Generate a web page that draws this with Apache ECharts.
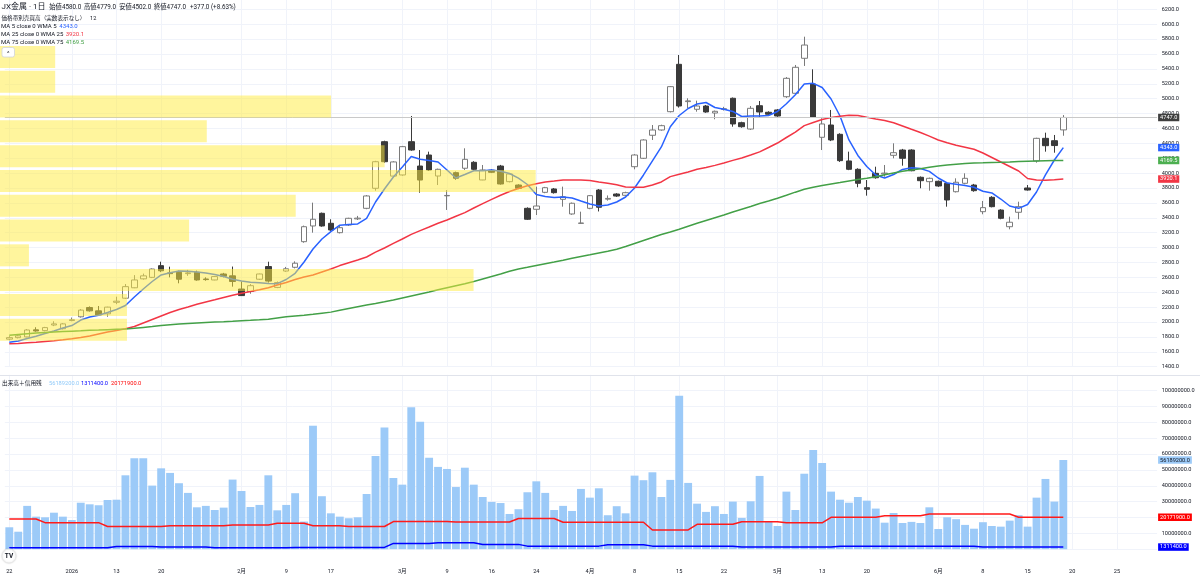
<!DOCTYPE html>
<html><head><meta charset="utf-8">
<script src="https://cdn.jsdelivr.net/npm/echarts@6/dist/echarts.min.js"></script>
<style>html,body{margin:0;padding:0;background:#fff}#c{width:1200px;height:579px}</style>
</head><body><div id="c"></div>
<script>
// ---------- data ----------
const dates = ['12/22','12/23','12/24','12/25','12/26','12/29','12/30',
'01/05','01/06','01/07','01/08','01/09','01/13','01/14','01/15','01/16','01/19','01/20','01/21','01/22','01/23','01/26','01/27','01/28','01/29','01/30',
'02/02','02/03','02/04','02/05','02/06','02/09','02/10','02/12','02/13','02/16','02/17','02/18','02/19','02/20','02/24','02/25','02/26','02/27',
'03/02','03/03','03/04','03/05','03/06','03/09','03/10','03/11','03/12','03/13','03/16','03/17','03/18','03/19','03/23','03/24','03/25','03/26','03/27','03/30','03/31',
'04/01','04/02','04/03','04/06','04/07','04/08','04/09','04/10','04/13','04/14','04/15','04/16','04/17','04/20','04/21','04/22','04/23','04/24','04/27','04/28','04/30',
'05/01','05/07','05/08','05/11','05/12','05/13','05/14','05/15','05/18','05/19','05/20','05/21','05/22','05/25','05/26','05/27','05/28','05/29',
'06/01','06/02','06/03','06/04','06/05','06/08','06/09','06/10','06/11','06/12','06/15','06/16','06/17','06/18','06/19'];
const futureDates = ['06/20','06/21','06/22','06/23','06/24','06/25','06/26','06/27','06/28','06/29'];
const tickDates = ['12/22','01/05','01/13','01/20','02/02','02/09','02/17','03/02','03/09','03/16','03/24','04/01','04/08','04/15','04/22','05/01','05/13','05/20','06/01','06/08','06/15','06/20','06/25'];
const tickText  = ['22','2026','13','20','2月','9','17','3月','9','16','24','4月','8','15','22','5月','13','20','6月','8','15','20','25'];

const open = [1770,1790,1800,1895,1885,1960,1910,2020,2070,2195, 2150,2110,2265,2320,2460,2580,2600,2757,2660,2668, 2650,2668,2578,2565,2645,2620,2443,2410,2575,2745, 2465,2685,2735,3079,3290,3460,3326,3200,3303,3385, 3527,3796,4422,3960,3975,4422,4095,4243,3961,3695, 4006,4065,4145,3908,4038,4095,3885,3840,3527,3514, 3742,3787,3648,3451,3325,3527,3773,3650,3719,3702, 4086,4199,4508,4579,4825,5461,4960,4857,4901,4807, 4855,5005,4677,4592,4905,4817,4848,5026,5072,5542, 5197,4481,4646,4521,4163,4051,3804,3997,3990,4239, 4310,4310,3944,3885,3890,3863,3750,3863,3840,3482, 3675,3504,3280,3474,3800,4163,4467,4435,4580];
const high = [1810,1830,1905,1930,1935,2010,1985,2060,2175,2210, 2215,2205,2340,2510,2630,2650,2720,2810,2743,2690, 2700,2690,2600,2615,2660,2745,2545,2510,2650,2810, 2545,2740,2815,3295,3603,3470,3380,3290,3400,3425, 3705,4165,4435,4160,4365,4767,4310,4288,4060,3773, 4020,4333,4160,4109,4050,4110,4000,3850,3540,3818, 3815,3800,3818,3605,3482,3705,3785,3700,3730,3750, 4255,4455,4646,4650,5170,5586,5005,4973,4915,4840, 4890,5015,4690,4901,4968,4830,4860,5290,5452,5832, 5394,4736,4848,4535,4288,4065,3907,4086,4109,4400, 4325,4320,3955,3940,3900,3875,3930,3997,3855,3626, 3690,3515,3415,3616,3840,4475,4543,4512,4779];
const low = [1755,1780,1795,1870,1875,1945,1900,2010,2060,2140, 2085,2070,2240,2310,2455,2570,2590,2670,2600,2520, 2620,2555,2555,2560,2600,2475,2350,2380,2565,2530, 2455,2675,2720,3065,3200,3280,3225,3190,3290,3370, 3515,3764,4140,3950,3965,4300,3737,4030,3840,3505, 3910,4042,4040,3905,4000,3845,3875,3785,3370,3437, 3730,3725,3549,3440,3320,3515,3485,3630,3680,3690, 4051,4190,4445,4570,4815,4880,4870,4825,4810,4723, 4840,4623,4610,4580,4749,4780,4755,5010,5060,5439, 4740,4310,4430,4150,4040,3810,3697,3925,3952,4199, 4100,4025,3796,3764,3815,3549,3740,3850,3750,3447, 3540,3380,3245,3380,3765,4140,4288,4274,4502];
const close = [1790,1815,1893,1880,1925,1975,1975,2030,2160,2150, 2095,2200,2280,2475,2565,2620,2712,2688,2650,2575, 2660,2565,2570,2610,2615,2545,2355,2488,2645,2550, 2530,2715,2790,3280,3380,3290,3236,3267,3393,3395, 3693,4153,4153,4150,4355,4310,3907,4042,4051,3700, 3931,4185,4051,4042,4011,3854,3988,3796,3380,3558, 3804,3737,3683,3595,3330,3697,3541,3660,3692,3737, 4243,4445,4579,4637,5161,4901,4970,4901,4821,4830, 4865,4660,4623,4870,4821,4790,4767,5273,5421,5720, 4750,4660,4445,4167,4051,3863,3783,3938,4000,4274, 4199,4032,3898,3930,3827,3639,3877,3930,3764,3536, 3549,3393,3340,3549,3773,4467,4368,4370,4747];

const ma5 = [1728,1745,1779,1808,1846,1880,1920,1953,2027,2068, 2090,2128,2168,2222,2336,2444,2544,2632,2663,2685, 2681,2672,2658,2638,2612,2574,2551,2534,2528,2518, 2515,2571,2654,2806,2981,3115,3213,3300,3310,3317, 3393,3612,3787,3948,4082,4223,4186,4169,4149,4042, 3934,3981,4032,4032,4042,4026,3995,3932,3847,3713, 3686,3672,3679,3666,3625,3585,3558,3572,3612,3679, 3800,3975,4163,4351,4623,4774,4868,4928,4948,4881, 4857,4828,4760,4767,4767,4774,4828,4931,5052,5197, 5206,5150,4995,4767,4445,4237,4089,3975,3934,3981, 4049,4073,4062,4023,3934,3867,3851,3834,3810,3756, 3733,3652,3558,3527,3578,3746,3975,4176,4343.0];
const ma25 = [1708,1713,1721,1728,1739,1748,1761,1775,1792,1812, 1839,1866,1886,1909,1940,1987,2034,2081,2128,2168, 2202,2238,2269,2299,2330,2360,2387,2409,2433,2461, 2497,2531,2571,2605,2632,2672,2712,2758,2797,2833, 2873,2938,2994,3057,3115,3177,3228,3276,3326,3370, 3420,3470,3531,3591,3648,3703,3753,3793,3830,3857, 3881,3894,3908,3908,3908,3901,3881,3863,3843,3814, 3810,3811,3840,3881,3953,3984,4015,4051,4075,4104, 4136,4171,4203,4243,4285,4344,4404,4478,4550,4638, 4680,4719,4747,4764,4778,4774,4750,4727,4707,4677, 4633,4588,4545,4496,4445,4407,4375,4348,4320,4270, 4210,4149,4089,4028,3928,3908,3905,3910,3920.1];
const ma75 = [1823,1833,1842,1851,1858,1865,1872,1877,1882,1888, 1892,1897,1902,1906,1916,1928,1939,1952,1963,1972, 1980,1988,1994,2000,2004,2010,2017,2023,2030,2038, 2054,2070,2081,2092,2104,2119,2133,2158,2182,2206, 2229,2250,2272,2296,2323,2350,2377,2403,2433,2461, 2488,2515,2544,2578,2612,2645,2681,2712,2735,2759, 2783,2806,2830,2856,2880,2903,2927,2951,2978,3014, 3055,3095,3135,3176,3209,3245,3286,3326,3364,3401, 3437,3478,3515,3552,3591,3625,3663,3702,3744,3783, 3811,3834,3854,3873,3894,3913,3930,3952,3977,4002, 4024,4042,4059,4078,4096,4109,4120,4130,4136,4139, 4143,4145,4149,4155,4159,4163,4167,4169,4169.5];

const volume = [13.8e6,11.0e6,27.3e6,20.5e6,20.1e6,23.0e6,20.5e6,18.4e6,29.3e6,28.3e6, 27.7e6,31.0e6,31.2e6,46.6e6,57.3e6,57.3e6,40.1e6,51.0e6,48.1e6,41.6e6, 35.5e6,26.4e6,27.3e6,24.7e6,26.2e6,43.9e6,36.7e6,26.6e6,27.9e6,46.6e6, 24.5e6,27.9e6,35.3e6,17.4e6,77.9e6,33.4e6,22.6e6,20.5e6,19.5e6,20.1e6, 34.8e6,58.8e6,76.7e6,44.9e6,40.7e6,89.5e6,80.4e6,57.7e6,51.9e6,50.6e6, 39.2e6,51.4e6,40.7e6,32.9e6,29.8e6,29.1e6,22.2e6,25.2e6,35.9e6,42.8e6, 35.5e6,24.7e6,27.3e6,24.1e6,38.0e6,32.5e6,38.4e6,21.4e6,27.1e6,22.6e6, 46.4e6,43.5e6,48.5e6,32.9e6,43.7e6,96.8e6,41.8e6,28.7e6,23.5e6,27.1e6, 22.2e6,30.0e6,19.7e6,30.2e6,46.2e6,17.4e6,14.6e6,36.3e6,24.7e6,47.6e6, 62.6e6,54.4e6,36.3e6,31.2e6,29.3e6,32.9e6,30.6e6,25.6e6,16.7e6,22.8e6, 16.5e6,17.2e6,16.5e6,26.4e6,12.7e6,20.1e6,18.9e6,15.3e6,12.9e6,17.0e6, 14.6e6,14.2e6,18.0e6,21.4e6,14.2e6,32.5e6,44.3e6,30.0e6,56189200];
const marginBuy = [19.0e6,19.0e6,19.0e6,19.0e6, 16.7e6,16.7e6,16.7e6,16.7e6,16.7e6,16.7e6,16.7e6, 14.3e6,14.3e6,14.3e6,14.3e6,14.3e6,14.3e6,14.3e6, 14.7e6,14.7e6,14.7e6,14.7e6,14.7e6,14.7e6,14.7e6, 15.3e6,15.3e6,15.3e6,15.3e6,15.3e6, 16.3e6,16.3e6,16.3e6,16.3e6, 14.8e6,14.8e6,14.8e6,14.8e6, 14.3e6,14.3e6,14.3e6,14.3e6,14.3e6, 17.4e6,17.4e6,17.4e6,17.4e6,17.4e6,17.4e6,17.4e6, 17.1e6,17.1e6,17.1e6,17.1e6,17.1e6,17.1e6,17.1e6, 19.3e6,19.3e6,19.3e6,19.3e6,19.3e6, 17.0e6,17.0e6,17.0e6,17.0e6,17.0e6,17.0e6,17.0e6,17.0e6,17.0e6,17.0e6, 12.1e6,12.1e6,12.1e6,12.1e6,12.1e6, 15.7e6,15.7e6,15.7e6,15.7e6,15.7e6, 17.3e6,17.3e6,17.3e6,17.3e6,17.3e6, 16.6e6,16.6e6,16.6e6,16.6e6,16.6e6, 20.1e6,20.1e6,20.1e6,20.1e6,20.1e6,20.1e6, 21.1e6,21.1e6,21.1e6,21.1e6,21.1e6, 22.2e6,22.2e6,22.2e6,22.2e6,22.2e6,22.2e6,22.2e6,22.2e6,22.2e6,22.2e6, 20171900,20171900,20171900,20171900,20171900,20171900];
const marginSell = [0.9e6,0.9e6,0.9e6,0.9e6,0.9e6,0.9e6,0.9e6,0.9e6,0.9e6,0.9e6,0.9e6,0.9e6, 1.7e6,1.7e6,1.7e6,1.7e6,1.7e6, 1.3e6,1.3e6,1.3e6,1.3e6,1.3e6,1.3e6, 0.9e6,0.9e6,0.9e6,0.9e6,0.9e6,0.9e6,0.9e6,0.9e6,0.9e6, 1.1e6,1.1e6,1.1e6,1.1e6,1.1e6,1.1e6,1.1e6,1.1e6,1.1e6,1.1e6,1.1e6, 3.6e6,3.6e6,3.6e6,3.6e6,3.6e6, 4.0e6,4.0e6,4.0e6,4.0e6,4.0e6, 3.0e6,3.0e6,3.0e6,3.0e6,3.0e6, 1.9e6,1.9e6,1.9e6,1.9e6,1.9e6,1.9e6,1.9e6,1.9e6,1.9e6, 2.8e6,2.8e6,2.8e6,2.8e6,2.8e6, 1.9e6,1.9e6,1.9e6,1.9e6,1.9e6,1.9e6,1.9e6,1.9e6,1.9e6,1.9e6, 1.3e6,1.3e6,1.3e6,1.3e6,1.3e6,1.3e6,1.3e6,1.3e6,1.3e6,1.3e6,1.3e6, 1.9e6,1.9e6,1.9e6,1.9e6,1.9e6,1.9e6,1.9e6,1.9e6,1.9e6,1.9e6,1.9e6,1.9e6,1.9e6,1.9e6,1.9e6,1.9e6, 1311400,1311400,1311400,1311400,1311400,1311400,1311400,1311400,1311400,1311400];

// volume profile (12 price bands, bottom -> top), relative volume
const profileBands  = [1712,2045,2378,2711,3044,3376,3709,4042,4375,4708,5041,5374];
const profileVolume = [23.7,23.7,88.4,5.4,35.3,55.2,100,71.8,38.6,61.8,10.3,10.3];

// ---------- chart ----------
const FONT = 'Roboto, "Noto Sans CJK JP", sans-serif';
const cats = dates.concat(futureDates);
const tickSet = new Set(tickDates);
const tickMap = {}; tickDates.forEach((d, i) => tickMap[d] = tickText[i]);
const onTick = (idx, val) => tickSet.has(val);
const last = dates.length - 1;
const candles = dates.map((d, i) => [open[i], close[i], low[i], high[i]]);
const GRIDC = '#f0f3fa';

function tag(value, bg, fg, lineColor) {
  return {
    silent: true, symbol: 'none', animation: false,
    data: [{ yAxis: value }],
    lineStyle: { color: lineColor || 'rgba(0,0,0,0)', width: 1, type: 'solid' },
    label: { show: true, position: 'end', distance: 1, formatter: () => value.toFixed(1),
      backgroundColor: bg, color: fg, fontSize: 5.6, fontFamily: FONT, lineHeight: 6,
      padding: [1, 2, 0.5, 2] },
    emphasis: { disabled: true }
  };
}
function txt(x, y, text, size, color, extra) {
  return Object.assign({ type: 'text', x: x, y: y, z: 100, silent: true,
    style: Object.assign({ text: text, fontSize: size, fontFamily: FONT, fill: color, verticalAlign: 'middle' }, extra || {}) });
}

const chg = close[last] - close[last - 1];
const pct = chg / close[last - 1] * 100;

const option = {
  animation: false,
  textStyle: { fontFamily: FONT },
  grid: [
    { left: 4.83, right: 42.9, top: -5.6, height: 372.3, outerBoundsMode: 'none', containLabel: false },
    { left: 4.83, right: 42.9, top: 374.85, height: 174.29, outerBoundsMode: 'none', containLabel: false },
    { left: 0, right: 42.9, top: 44.6, height: 297.5, outerBoundsMode: 'none', containLabel: false }
  ],
  xAxis: [
    { type: 'category', gridIndex: 0, data: cats, boundaryGap: true,
      axisLine: { show: false }, axisTick: { show: false }, axisLabel: { show: false },
      splitLine: { show: true, interval: onTick, alignWithLabel: true, lineStyle: { color: GRIDC } } },
    { type: 'category', gridIndex: 1, data: cats, boundaryGap: true,
      axisLine: { show: false }, axisTick: { show: false },
      axisLabel: { show: true, interval: onTick, formatter: v => tickMap[v] || '', margin: 19.3,
        fontSize: 5.6, color: '#131722', fontFamily: FONT },
      splitLine: { show: true, interval: onTick, alignWithLabel: true, lineStyle: { color: GRIDC } } },
    { type: 'value', gridIndex: 2, min: 0, max: 216, show: false }
  ],
  yAxis: [
    { type: 'value', gridIndex: 0, position: 'right', min: 1400, max: 6400, interval: 200,
      axisLine: { show: false }, axisTick: { show: false },
      axisLabel: { margin: 4.6, fontSize: 5.6, color: '#131722', fontFamily: FONT, showMaxLabel: false,
        formatter: v => v.toFixed(1) },
      splitLine: { lineStyle: { color: GRIDC } } },
    { type: 'value', gridIndex: 1, position: 'right', min: 0, max: 110e6, interval: 10e6,
      axisLine: { show: false }, axisTick: { show: false },
      axisLabel: { margin: 4.6, fontSize: 5.6, color: '#131722', fontFamily: FONT,
        showMinLabel: false, showMaxLabel: false, formatter: v => v.toFixed(1) },
      splitLine: { lineStyle: { color: GRIDC } } },
    { type: 'category', gridIndex: 2, data: profileBands.map(String), show: false }
  ],
  series: [
    { type: 'candlestick', xAxisIndex: 0, yAxisIndex: 0, data: candles, barWidth: 6, silent: true,
      itemStyle: { color: '#ffffff', color0: '#3a3a3a', borderColor: '#7a7a7a', borderColor0: '#3a3a3a', borderWidth: 1 },
      markLine: tag(close[last], '#3f3f3f', '#ffffff', '#c9c9c9') },
    { type: 'line', name: 'MA5', xAxisIndex: 0, yAxisIndex: 0, data: ma5, showSymbol: false, symbol: 'none', silent: true,
      lineStyle: { color: '#2962ff', width: 1.5 }, markLine: tag(ma5[last], '#2962ff', '#ffffff') },
    { type: 'line', name: 'MA25', xAxisIndex: 0, yAxisIndex: 0, data: ma25, showSymbol: false, symbol: 'none', silent: true,
      lineStyle: { color: '#f23645', width: 1.5 }, markLine: tag(ma25[last], '#f23645', '#ffffff') },
    { type: 'line', name: 'MA75', xAxisIndex: 0, yAxisIndex: 0, data: ma75, showSymbol: false, symbol: 'none', silent: true,
      lineStyle: { color: '#43a047', width: 1.5 }, markLine: tag(ma75[last], '#4caf50', '#ffffff') },
    { type: 'bar', name: 'volume', xAxisIndex: 1, yAxisIndex: 1, data: volume, barCategoryGap: '12%', silent: true,
      itemStyle: { color: '#9ccaf8' }, markLine: tag(volume[last], '#9ccaf8', '#131722') },
    { type: 'line', name: 'marginBuy', xAxisIndex: 1, yAxisIndex: 1, data: marginBuy, showSymbol: false, symbol: 'none', silent: true,
      lineStyle: { color: '#ff1a1a', width: 1.5 }, z: 3, markLine: tag(marginBuy[last], '#ff0000', '#ffffff') },
    { type: 'line', name: 'marginSell', xAxisIndex: 1, yAxisIndex: 1, data: marginSell, showSymbol: false, symbol: 'none', silent: true,
      lineStyle: { color: '#0000ff', width: 1.5 }, z: 3, markLine: tag(marginSell[last], '#0000ff', '#ffffff') },
    { type: 'bar', name: 'profile', xAxisIndex: 2, yAxisIndex: 2, data: profileVolume, barWidth: 22, silent: true, z: 10,
      itemStyle: { color: 'rgba(255,235,59,0.5)' } }
  ],
  graphic: [
    { type: 'line', z: 50, silent: true, shape: { x1: 0, y1: 375.5, x2: 1200, y2: 375.5 }, style: { stroke: '#e0e3eb', lineWidth: 1 } },
    txt(1.5, 6.8, 'JX金属 · 1日', 8, '#131722'),
    txt(49.3, 7, '始値' + open[last].toFixed(1), 6.3, '#131722'),
    txt(84, 7, '高値' + high[last].toFixed(1), 6.3, '#131722'),
    txt(119.3, 7, '安値' + low[last].toFixed(1), 6.3, '#131722'),
    txt(154, 7, '終値' + close[last].toFixed(1), 6.3, '#131722'),
    txt(190, 7, '+' + chg.toFixed(1) + ' (+' + pct.toFixed(2) + '%)', 6.3, '#131722'),
    txt(1.5, 18.3, '価格帯別売買高（実数表示なし）', 5.6, '#131722'),
    txt(90, 18.3, String(profileBands.length), 5.6, '#131722'),
    txt(1, 26, 'MA 5 close 0 WMA 5', 6, '#131722'),
    txt(59.3, 26, ma5[last].toFixed(1), 6, '#2962ff'),
    txt(1, 34, 'MA 25 close 0 WMA 25', 6, '#131722'),
    txt(65.7, 34, ma25[last].toFixed(1), 6, '#f23645'),
    txt(1, 42, 'MA 75 close 0 WMA 75', 6, '#131722'),
    txt(65.7, 42, ma75[last].toFixed(1), 6, '#43a047'),
    { type: 'rect', z: 100, silent: true, shape: { x: 2, y: 47.5, width: 12.5, height: 9.5, r: 2 }, style: { fill: '#ffffff', stroke: '#d1d4dc', lineWidth: 0.8 } },
    txt(8.25, 53, '^', 6, '#131722', { align: 'center' }),
    txt(2, 383.3, '出来高＋信用残', 5.7, '#131722'),
    txt(49, 383.3, volume[last].toFixed(1), 5.7, '#90caf9'),
    txt(81, 383.3, marginSell[last].toFixed(1), 5.7, '#0000ff'),
    txt(111, 383.3, marginBuy[last].toFixed(1), 5.7, '#ff0000'),
    { type: 'circle', z: 100, silent: true, shape: { cx: 9, cy: 556, r: 7 }, style: { fill: '#ffffff', stroke: '#e6e6e6', lineWidth: 0.8, shadowBlur: 2, shadowColor: 'rgba(0,0,0,0.15)' } },
    txt(9, 556.3, 'TV', 6.5, '#131722', { align: 'center', fontWeight: 'bold' })
  ]
};
const chart = echarts.init(document.getElementById('c'));
chart.setOption(option);
</script></body></html>
